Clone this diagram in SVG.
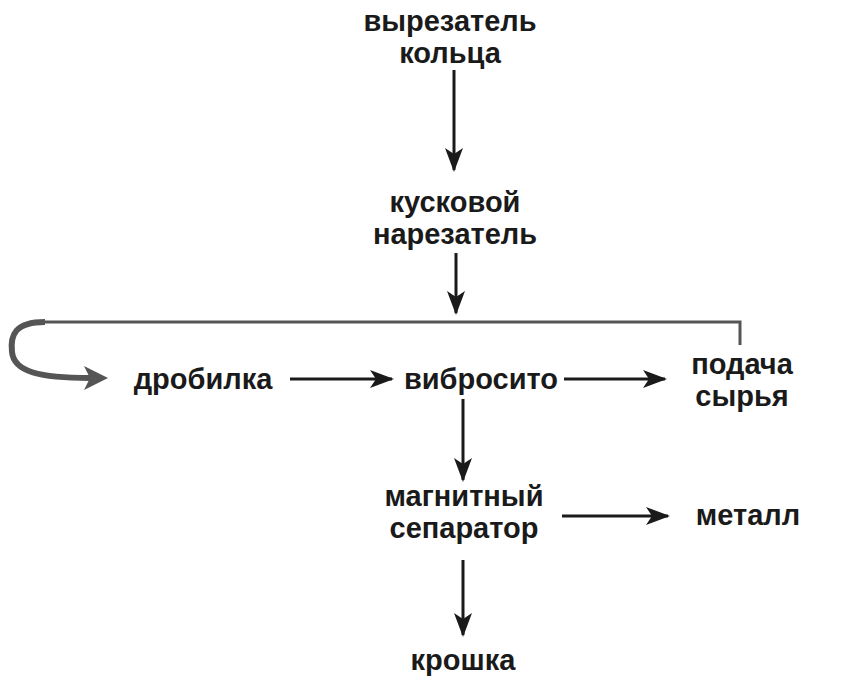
<svg xmlns="http://www.w3.org/2000/svg" width="841" height="694" viewBox="0 0 841 694">
<style>
text{font-family:"Liberation Sans",Arial,sans-serif;font-size:29px;font-weight:bold;fill:#1a1a1a;text-anchor:middle}
.c{stroke:#1a1a1a;stroke-width:3;fill:none}
</style>
<defs>
<marker id="ab" markerWidth="24" markerHeight="18" refX="22" refY="9" orient="auto" markerUnits="userSpaceOnUse" viewBox="0 0 24 18"><path d="M0,0 L24,9 L0,18 L6,9z" fill="#1a1a1a"/></marker>
</defs>
<rect width="841" height="694" fill="#fff"/>
<g id="connectors">
<path class="c" d="M454,70 V170" marker-end="url(#ab)"/>
<path class="c" d="M456,253 V313" marker-end="url(#ab)"/>
<path d="M740,345 V322 H45" stroke="#555" stroke-width="3" fill="none"/>
<path d="M45,322 C15,322 10,335 12,352 C14,372 40,378 90,378" stroke="#555" stroke-width="6" fill="none"/>
<path d="M84,366 L108,378 L84,390 L90,378z" fill="#555"/>
<path class="c" d="M290,379 H392" marker-end="url(#ab)"/>
<path class="c" d="M564,379 H665" marker-end="url(#ab)"/>
<path class="c" d="M463,399 V480" marker-end="url(#ab)"/>
<path class="c" d="M562,516 H668" marker-end="url(#ab)"/>
<path class="c" d="M463,560 V635" marker-end="url(#ab)"/>
</g>
<g id="n1"><text x="450" y="31">вырезатель</text><text x="450" y="63">кольца</text></g>
<g id="n2"><text x="455" y="212">кусковой</text><text x="455" y="244">нарезатель</text></g>
<g id="n3"><text x="203" y="389">дробилка</text></g>
<g id="n4"><text x="481" y="389">вибросито</text></g>
<g id="n5"><text x="742" y="374">подача</text><text x="742" y="406">сырья</text></g>
<g id="n6"><text x="464" y="506">магнитный</text><text x="464" y="538">сепаратор</text></g>
<g id="n7"><text x="748" y="525">металл</text></g>
<g id="n8"><text x="463" y="670">крошка</text></g>
</svg>
